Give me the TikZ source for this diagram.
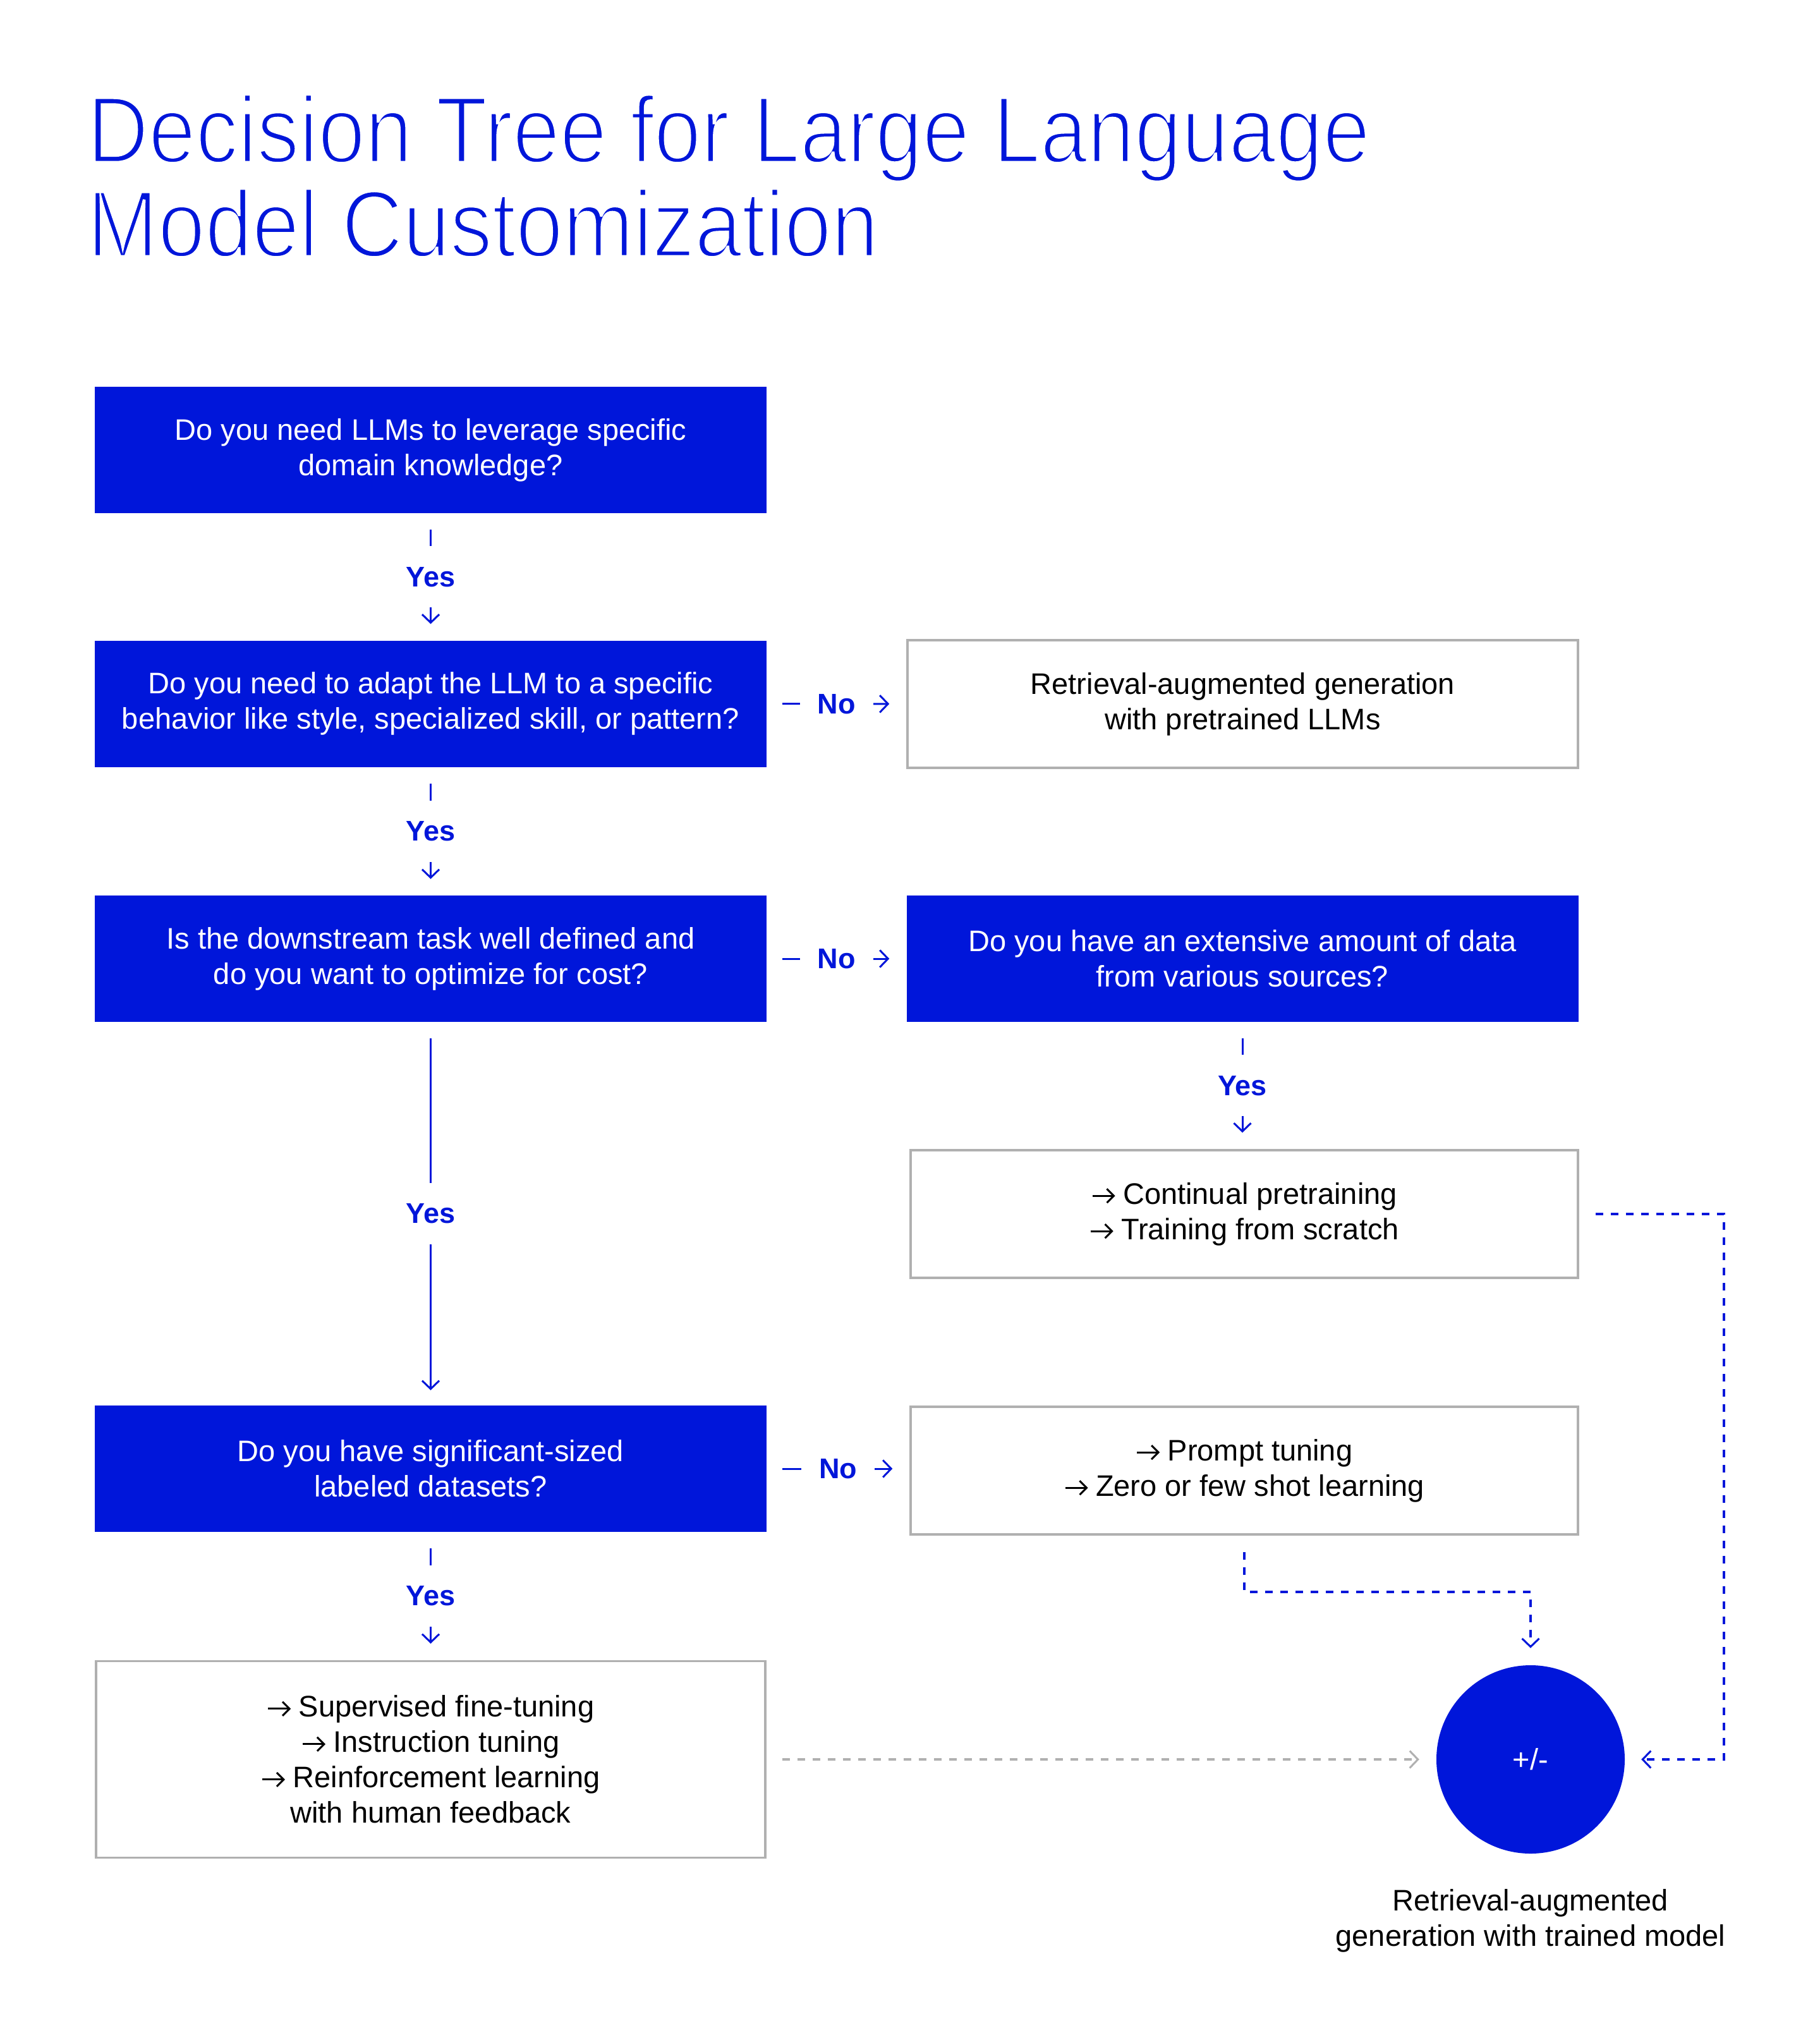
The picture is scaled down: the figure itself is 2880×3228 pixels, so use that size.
\documentclass[tikz,border=0pt]{standalone}
\usepackage{fontspec}
\setmainfont{Liberation Sans}
\newfontfamily\ttlfamily[FakeStretch=0.9]{Liberation Sans}
\usetikzlibrary{arrows.meta}
\definecolor{brandblue}{HTML}{0016DA}
\definecolor{boxgray}{HTML}{B0B0B0}
\newcommand\bxfont{\fontsize{47}{56}\selectfont}
\newcommand\lbfont{\fontsize{45}{54}\selectfont\bfseries}
\newcommand\thinon{\special{pdf:literal direct 2 Tr 1 1 1 RG 4.5 w}}
\newcommand\thinoff{\special{pdf:literal direct 0 Tr}}
\newcommand\arr{\tikz[baseline=0pt]\draw[line width=3pt, -{Straight Barb[length=11pt,width=22pt,line width=3pt]}] (0pt,13pt) -- (36pt,13pt);\hspace{11pt}}
\begin{document}
\begin{tikzpicture}[x=1pt,y=-1pt,
  qbox/.style={fill=brandblue, text=white, minimum width=1063pt, minimum height=200pt, align=center, font=\bxfont, inner sep=0pt},
  abox/.style={draw=boxgray, line width=3.5pt, fill=white, text=black, minimum width=1059pt, minimum height=202pt, align=center, font=\bxfont, inner sep=0pt},
  link/.style={draw=brandblue, line width=3pt, -{Straight Barb[length=13pt,width=27pt,line width=3pt]}},
  dlink/.style={draw=brandblue, line width=4pt, dash pattern=on 12pt off 12pt, -{Straight Barb[length=13pt,width=27pt,line width=3pt]}},
  glink/.style={draw=boxgray, line width=4pt, dash pattern=on 12pt off 12pt, -{Straight Barb[length=13pt,width=27pt,line width=3pt]}},
  ylbl/.style={fill=white, text=brandblue, font=\lbfont, inner sep=0pt, minimum height=97pt, minimum width=100pt},
  nlbl/.style={fill=white, text=brandblue, font=\lbfont, inner sep=0pt, minimum height=60pt, minimum width=116pt},
]
\useasboundingbox[fill=white] (0,0) rectangle (2880,3228);

% title
\node[anchor=base west, text=brandblue, align=left, font=\ttlfamily\fontsize{149}{149}\selectfont, inner sep=0pt] (title) at (138,406)
  {\thinon Decision Tree for Large Language\\Model Customization\thinoff};

% left column
\node[qbox] (b1) at (681.5,712) {Do you need LLMs to leverage specific\\domain knowledge?};
\node[qbox] (b2) at (681.5,1113.5) {Do you need to adapt the LLM to a specific\\behavior like style, specialized skill, or pattern?};
\node[qbox] (b3) at (681.5,1517) {Is the downstream task well defined and\\do you want to optimize for cost?};
\node[qbox] (b4) at (681.5,2324) {Do you have significant-sized\\labeled datasets?};
\node[abox, minimum height=311pt] (b5) at (681.5,2784) {\arr Supervised fine-tuning\\\arr Instruction tuning\\\arr Reinforcement learning\\with human feedback};

% right column
\node[abox, minimum width=1061pt] (r1) at (1966.5,1114) {Retrieval-augmented generation\\with pretrained LLMs};
\node[qbox] (r2) at (1966,1517) {Do you have an extensive amount of data\\from various sources?};
\node[abox, minimum width=1056pt] (r3) at (1969,1921) {\arr Continual pretraining\\\arr Training from scratch};
\node[abox, minimum width=1056pt] (r4) at (1969,2327) {\arr Prompt tuning\\\arr Zero or few shot learning};

% result circle
\node[circle, fill=brandblue, text=white, minimum size=298pt, inner sep=0pt, font=\bxfont] (circ) at (2422,2784) {+/-};
\node[anchor=base, align=center, font=\bxfont, text=black, inner sep=0pt] (cap) at (2422,3079) {Retrieval-augmented\\generation with trained model};

% yes connectors
\draw[link, shorten <=26pt, shorten >=26pt] (b1) -- (b2) node[midway, ylbl] {Yes};
\draw[link, shorten <=26pt, shorten >=26pt] (b2) -- (b3) node[midway, ylbl] {Yes};
\draw[link, shorten <=26pt, shorten >=24pt] (b3) -- (b4) node[midway, ylbl] {Yes};
\draw[link, shorten <=26pt, shorten >=26pt] (b4) -- (b5) node[midway, ylbl] {Yes};
\draw[link, shorten <=26pt, shorten >=26pt] (r2) -- (r2 |- r3.north) node[midway, ylbl] {Yes};

% no connectors
\draw[link, shorten <=25pt, shorten >=27pt] (b2) -- (r1) node[midway, nlbl] {No};
\draw[link, shorten <=25pt, shorten >=27pt] (b3) -- (r2) node[midway, nlbl] {No};
\draw[link, shorten <=25pt, shorten >=27pt] (b4) -- (r4.west |- b4) node[midway, nlbl] {No};

% dashed connectors
\coordinate (cr) at (2728,1921);
\coordinate (jp) at (1969,2519);
\draw[dlink, shorten <=26pt, shorten >=26pt] (r3.east) -- (cr) |- (circ.east);
\draw[dlink, shorten <=26pt, shorten >=27pt] (r4.south) -- (jp) -| (circ.north);
\draw[glink, shorten <=25pt, shorten >=27pt] (b5) -- (circ);
\end{tikzpicture}
\end{document}
